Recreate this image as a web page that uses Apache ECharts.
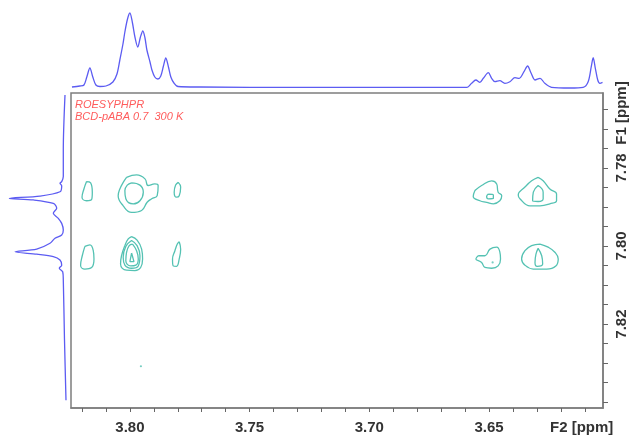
<!DOCTYPE html>
<html>
<head>
<meta charset="utf-8">
<script src="https://cdn.jsdelivr.net/npm/echarts@6.0.0/dist/echarts.min.js"></script>
<style>
  html, body { margin: 0; padding: 0; background: #ffffff; }
  #chart { width: 632px; height: 435px; }
</style>
</head>
<body>
<div id="chart"></div>
<script>
// Spectral window (ppm)
const f2Range = [3.6024, 3.8246];
const f1Range = [7.7608, 7.8415];

// Axis ticks and labels (ppm)
const f2Ticks = [3.61, 3.62, 3.63, 3.64, 3.65, 3.66, 3.67, 3.68, 3.69, 3.70, 3.71,
                 3.72, 3.73, 3.74, 3.75, 3.76, 3.77, 3.78, 3.79, 3.80, 3.81, 3.82];
const f2Labels = [3.65, 3.70, 3.75, 3.80];
const f1Ticks = [7.765, 7.77, 7.775, 7.78, 7.785, 7.79, 7.795, 7.80,
                 7.805, 7.81, 7.815, 7.82, 7.825, 7.83, 7.835, 7.84];
const f1Labels = [7.78, 7.80, 7.82];

// F2 projection: [ppm, intensity]
const f2Projection = [
  [3.8242, 1], [3.8209, 2], [3.8192, 3], [3.8180, 11], [3.8167, 20], [3.8155, 11],
  [3.8142, 3], [3.8125, 1.5], [3.8100, 2], [3.8071, 6], [3.8054, 14], [3.8042, 28],
  [3.8029, 44], [3.8021, 56], [3.8010, 69], [3.8000, 75], [3.7990, 66], [3.7979, 51],
  [3.7967, 41], [3.7956, 51], [3.7946, 57], [3.7937, 50], [3.7929, 38], [3.7916, 26],
  [3.7908, 18], [3.7896, 11], [3.7883, 9], [3.7871, 12], [3.7860, 22], [3.7850, 30],
  [3.7839, 21], [3.7829, 11], [3.7816, 5], [3.7799, 1.5], [3.7708, 1], [3.7290, 0.6],
  [3.6789, 0.6], [3.6592, 0.7], [3.6573, 4.7], [3.6555, 8], [3.6538, 5.7], [3.6524, 9.7],
  [3.6503, 15.3], [3.6489, 9.7], [3.6475, 6.3], [3.6455, 7.3], [3.6434, 4.7], [3.6413, 6.3],
  [3.6392, 10.3], [3.6374, 9.7], [3.6354, 16.3], [3.6339, 22], [3.6325, 15.3], [3.6308, 8],
  [3.6287, 9.7], [3.6267, 4.7], [3.6239, 0.7], [3.6162, 0], [3.6107, 0.7], [3.6086, 6.3],
  [3.6073, 21.3], [3.6065, 30.3], [3.6056, 19.7], [3.6046, 8], [3.6037, 4.7], [3.6026, 5.7]
];

// F1 projection: [ppm, intensity]
const f1Projection = [
  [7.7613, 3], [7.7754, 4.7], [7.7822, 4.7], [7.7835, 6.3], [7.7839, 8], [7.7846, 6.3],
  [7.7861, 8], [7.7872, 28], [7.7878, 58.7], [7.7882, 34.7], [7.7891, 14.7], [7.7903, 11.3],
  [7.7916, 14.7], [7.7929, 9.7], [7.7942, 6.3], [7.7959, 4.7], [7.7972, 6.3], [7.7980, 13],
  [7.7993, 18], [7.8008, 31.3], [7.8015, 53], [7.8021, 31.3], [7.8027, 14.7], [7.8036, 8],
  [7.8049, 6.3], [7.8057, 8.7], [7.8066, 5.3], [7.8087, 4.7], [7.8241, 3.5], [7.8395, 2]
];

// Contour rings of the ROESY cross peaks: [F2 ppm, F1 ppm]
const ringR1C1 = [[3.8181,7.7835],[3.8164,7.7838],[3.8157,7.7862],[3.8160,7.7881],[3.8181,7.7884],[3.8200,7.7875],[3.8192,7.7854]];
const ringR1C2a = [[3.8014,7.7824],[3.7972,7.7818],[3.7937,7.7828],[3.7924,7.7845],[3.7896,7.7841],[3.7882,7.7845],[3.7886,7.7871],[3.7909,7.7879],[3.7928,7.7888],[3.7951,7.7909],[3.7993,7.7914],[3.8028,7.7897],[3.8049,7.7871],[3.8042,7.7854],[3.8028,7.7837]];
const ringR1C2b = [[3.7993,7.7838],[3.7958,7.7844],[3.7944,7.7862],[3.7958,7.7884],[3.7986,7.7892],[3.8017,7.7879],[3.8021,7.7858],[3.8011,7.7844]];
const ringR1C3 = [[3.7798,7.7837],[3.7788,7.7849],[3.7794,7.7871],[3.7805,7.7875],[3.7815,7.7862],[3.7809,7.7844]];
const ringR1C4a = [[3.6559,7.7858],[3.6531,7.7845],[3.6489,7.7833],[3.6468,7.7841],[3.6462,7.7862],[3.6447,7.7871],[3.6455,7.7884],[3.6482,7.7892],[3.6510,7.7888],[3.6538,7.7884],[3.6566,7.7873]];
const ringR1C4b = [[3.6503,7.7867],[3.6482,7.7869],[3.6482,7.7878],[3.6503,7.7879],[3.6510,7.7873]];
const ringR1C5a = [[3.6295,7.7824],[3.6274,7.7833],[3.6246,7.7854],[3.6218,7.7867],[3.6218,7.7884],[3.6246,7.7892],[3.6287,7.7897],[3.6329,7.7897],[3.6371,7.7879],[3.6378,7.7869],[3.6350,7.7849],[3.6322,7.7833]];
const ringR1C5b = [[3.6295,7.7845],[3.6274,7.7862],[3.6274,7.7879],[3.6295,7.7886],[3.6318,7.7884],[3.6315,7.7862]];
const ringR2C1 = [[3.8188,7.8001],[3.8167,7.7997],[3.8153,7.8012],[3.8150,7.8033],[3.8160,7.8055],[3.8188,7.8059],[3.8206,7.8049],[3.8199,7.8025]];
const ringR2C2a = [[3.7993,7.7976],[3.7970,7.7985],[3.7951,7.8008],[3.7947,7.8033],[3.7955,7.8055],[3.7979,7.8063],[3.8014,7.8062],[3.8039,7.8046],[3.8035,7.8025],[3.8021,7.7999],[3.8007,7.7982]];
const ringR2C2b = [[3.7993,7.7986],[3.7970,7.7999],[3.7958,7.8025],[3.7965,7.8051],[3.7993,7.8057],[3.8021,7.8049],[3.8028,7.8029],[3.8017,7.8001]];
const ringR2C2c = [[3.7989,7.7995],[3.7972,7.8012],[3.7965,7.8033],[3.7975,7.8049],[3.7997,7.8051],[3.8017,7.8038],[3.8014,7.8016],[3.8003,7.7999]];
const ringR2C2d = [[3.7993,7.8018],[3.7983,7.8040],[3.8000,7.8040]];
const ringR2C3 = [[3.7794,7.7989],[3.7788,7.8008],[3.7794,7.8033],[3.7805,7.8052],[3.7819,7.8051],[3.7822,7.8033],[3.7812,7.8012],[3.7802,7.7995]];
const ringR2C4 = [[3.6545,7.8025],[3.6517,7.8025],[3.6496,7.8008],[3.6468,7.8003],[3.6455,7.8015],[3.6452,7.8033],[3.6462,7.8051],[3.6489,7.8057],[3.6517,7.8055],[3.6531,7.8042],[3.6555,7.8033]];
const ringR2C5a = [[3.6287,7.7995],[3.6253,7.8003],[3.6225,7.8016],[3.6211,7.8033],[3.6221,7.8051],[3.6259,7.8059],[3.6315,7.8059],[3.6350,7.8049],[3.6364,7.8033],[3.6350,7.8012],[3.6322,7.7999]];
const ringR2C5b = [[3.6295,7.8006],[3.6280,7.8025],[3.6276,7.8046],[3.6299,7.8052],[3.6308,7.8042],[3.6304,7.8021]];
// single-point contour islands
const contourDots = [[3.6485, 7.8042], [3.7954, 7.8308]];

const contourRings = [
  ringR1C1, ringR1C2a, ringR1C2b, ringR1C3, ringR1C4a, ringR1C4b, ringR1C5a, ringR1C5b,
  ringR2C1, ringR2C2a, ringR2C2b, ringR2C2c, ringR2C2d, ringR2C3, ringR2C4, ringR2C5a, ringR2C5b
];

const BLUE = '#5c5cf2';
const TEAL = '#55c2b3';
const FRAME = '#7d7d7d';
const FONT = '"Liberation Sans", Arial, sans-serif';

const chart = echarts.init(document.getElementById('chart'), null, { renderer: 'canvas' });

const contourSeries = contourRings.map(ring => ({
  type: 'line',
  xAxisIndex: 0,
  yAxisIndex: 0,
  data: ring.concat([ring[0]]),
  smooth: 0.45,
  symbol: 'none',
  silent: true,
  clip: true,
  lineStyle: { color: TEAL, width: 1.3 }
}));

const option = {
  animation: false,
  backgroundColor: '#ffffff',
  grid: [
    // 2D plane
    { left: 71, top: 93, width: 532, height: 315, show: true, borderColor: FRAME, borderWidth: 1.5,
      backgroundColor: 'transparent', outerBoundsMode: 'none' },
    // F2 projection on top
    { left: 71, top: 0, width: 532, height: 88, show: false, outerBoundsMode: 'none' },
    // F1 projection on the left
    { left: 0, top: 93, width: 68, height: 315, show: false, outerBoundsMode: 'none' }
  ],
  xAxis: [
    {
      type: 'value', gridIndex: 0, inverse: true, min: f2Range[0], max: f2Range[1],
      position: 'bottom',
      splitLine: { show: false },
      axisLine: { show: true, lineStyle: { color: FRAME, width: 1.5 } },
      axisTick: { show: true, customValues: f2Ticks, inside: false, length: 4,
                  lineStyle: { color: '#666', width: 1 } },
      axisLabel: { show: true, customValues: f2Labels, margin: 12,
                   formatter: v => v.toFixed(2),
                   color: '#333', fontWeight: 'bold', fontSize: 15, fontFamily: FONT }
    },
    { type: 'value', gridIndex: 1, inverse: true, min: f2Range[0], max: f2Range[1], show: false },
    { type: 'value', gridIndex: 2, inverse: true, min: 0, max: 68, show: false }
  ],
  yAxis: [
    {
      type: 'value', gridIndex: 0, inverse: true, min: f1Range[0], max: f1Range[1],
      position: 'right',
      splitLine: { show: false },
      axisLine: { show: true, lineStyle: { color: FRAME, width: 1.5 } },
      axisTick: { show: true, customValues: f1Ticks, inside: false, length: 5,
                  lineStyle: { color: '#666', width: 1 } },
      axisLabel: { show: true, customValues: f1Labels, rotate: 90, margin: 11,
                   formatter: v => v.toFixed(2),
                   color: '#333', fontWeight: 'bold', fontSize: 15, fontFamily: FONT }
    },
    { type: 'value', gridIndex: 1, min: 0, max: 88, show: false },
    { type: 'value', gridIndex: 2, inverse: true, min: f1Range[0], max: f1Range[1], show: false }
  ],
  series: [
    {
      type: 'line', xAxisIndex: 1, yAxisIndex: 1, data: f2Projection,
      smooth: 0.3, symbol: 'none', silent: true, clip: false,
      lineStyle: { color: BLUE, width: 1.3 }
    },
    {
      type: 'line', xAxisIndex: 2, yAxisIndex: 2,
      data: f1Projection.map(p => [p[1], p[0]]),
      smooth: 0.3, symbol: 'none', silent: true, clip: false,
      lineStyle: { color: BLUE, width: 1.3 }
    },
    ...contourSeries,
    {
      type: 'scatter', xAxisIndex: 0, yAxisIndex: 0, data: contourDots,
      symbol: 'circle', symbolSize: 2.2, silent: true,
      itemStyle: { color: TEAL }
    }
  ],
  graphic: [
    { type: 'text', left: 75, top: 99, silent: true,
      style: { text: 'ROESYPHPR', fill: '#ff5c5c', font: 'italic 11px ' + FONT } },
    { type: 'text', left: 75, top: 111, silent: true,
      style: { text: 'BCD-pABA 0.7  300 K', fill: '#ff5c5c', font: 'italic 11px ' + FONT } },
    { type: 'text', x: 550, y: 428, silent: true,
      style: { text: 'F2 [ppm]', fill: '#333', font: 'bold 15px ' + FONT,
               textAlign: 'left', textVerticalAlign: 'middle' } },
    { type: 'text', x: 622, y: 113, rotation: Math.PI / 2, silent: true,
      style: { text: 'F1 [ppm]', fill: '#333', font: 'bold 15px ' + FONT,
               textAlign: 'center', textVerticalAlign: 'middle' } }
  ]
};

chart.setOption(option);
</script>
</body>
</html>
